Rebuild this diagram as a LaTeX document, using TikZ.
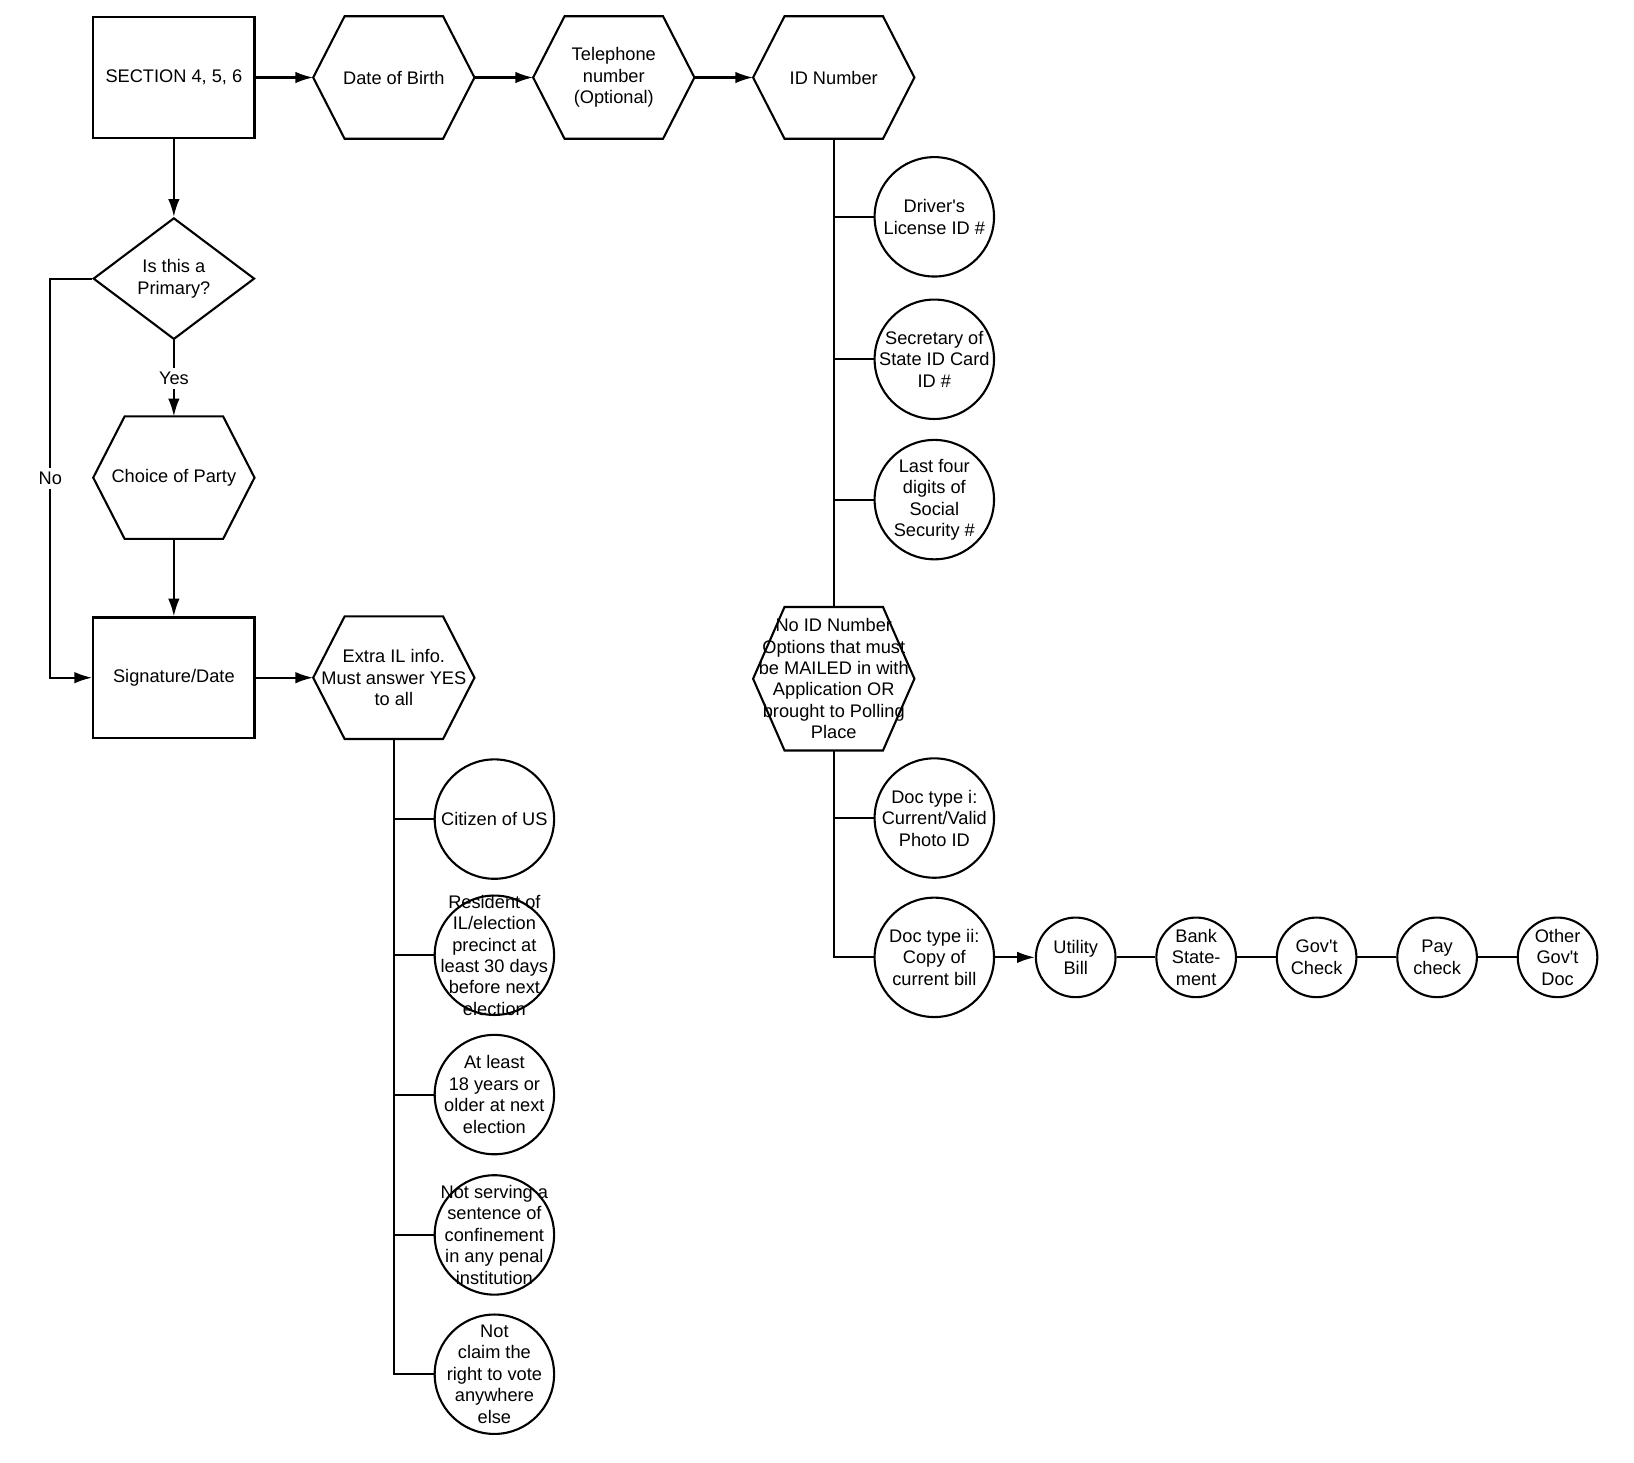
\documentclass[tikz,border=0pt]{standalone}
\usepackage{fontspec}
\setmainfont{Liberation Sans}
\usetikzlibrary{arrows.meta, positioning, shapes.geometric}
\tikzset{>={Latex[width=5.5pt,length=8.5pt]}}
\tikzset{
  every node/.style={font=\fontsize{8.7}{10.25}\selectfont},
  box/.style={draw, rectangle, minimum width=77pt, minimum height=57.5pt, align=center},
  hexa/.style={rectangle, minimum width=76pt, minimum height=57.5pt, inner sep=0pt, align=center,
    append after command={\pgfextra{\draw (\tikzlastnode.west)
      -- ([xshift=15pt]\tikzlastnode.north west) -- ([xshift=-15pt]\tikzlastnode.north east)
      -- (\tikzlastnode.east)
      -- ([xshift=-15pt]\tikzlastnode.south east) -- ([xshift=15pt]\tikzlastnode.south west)
      -- cycle;}}},
  ask/.style={draw, diamond, aspect=1.33, minimum width=77pt, minimum height=58pt, inner sep=0pt, align=center},
  opt/.style={draw, circle, minimum size=57pt, inner sep=0pt},
  doc/.style={draw, circle, minimum size=38pt, inner sep=0pt},
  txt/.style={align=center, inner sep=0pt},
  tag/.style={fill=white, inner sep=2pt},
}

\begin{document}
\begin{tikzpicture}[on grid, node distance = 105pt, line width = 1pt]
		\useasboundingbox (0,0) rectangle (780pt,-698pt);
		% top row
		\node (sec) [box] at (83pt,-37pt) {SECTION 4, 5, 6};
		\node (dob) [hexa, right = of sec] {Date of Birth};
		\node (tel) [hexa, right = of dob] {Telephone\\number\\(Optional)};
		\node (idn) [hexa, right = of tel] {ID Number};
		% left column
		\node (prim) [ask, below = 96pt of sec] {Is this a\\Primary?};
		\node (party) [hexa, below = 95pt of prim] {Choice of Party};
		\node (sign) [box, below = 95.5pt of party] {Signature/Date};
		\node (extra) [hexa, right = of sign] {Extra IL info.\\Must answer YES\\to all};
		% IL requirements
		\node (cit) [opt, below right = 67.5pt and 48pt of extra, label = {[txt]center:{Citizen of US}}] {};
		\node (res) [opt, below = 65pt of cit, label = {[txt]center:{Resident of\\IL/election\\precinct at\\least 30 days\\before next\\election}}] {};
		\node (age) [opt, below = 66.5pt of res, label = {[txt]center:{At least\\18 years or\\older at next\\election}}] {};
		\node (jail) [opt, below = 67pt of age, label = {[txt]center:{Not serving a\\sentence of\\confinement\\in any penal\\institution}}] {};
		\node (elsew) [opt, below = 66.5pt of jail, label = {[txt]center:{Not\\claim the\\right to vote\\anywhere\\else}}] {};
		% ID options
		\node (dl) [opt, below right = 66.5pt and 48pt of idn, label = {[txt]center:{Driver\textquotesingle s\\License ID \#}}] {};
		\node (sos) [opt, below = 68pt of dl, label = {[txt]center:{Secretary of\\State ID Card\\ID \#}}] {};
		\node (ssn) [opt, below = 67pt of sos, label = {[txt]center:{Last four\\digits of\\Social\\Security \#}}] {};
		\node (noid) [hexa, minimum height = 67.5pt, below = 287pt of idn]
			{No ID Number\\Options that must\\be MAILED in with\\Application OR\\brought to Polling\\Place};
		\node (doci) [opt, below right = 66.5pt and 48pt of noid, label = {[txt]center:{Doc type i:\\Current/Valid\\Photo ID}}] {};
		\node (docii) [opt, below = 66.5pt of doci, label = {[txt]center:{Doc type ii:\\Copy of\\current bill}}] {};
		% bills
		\node (util) [doc, right = 67.5pt of docii, label = {[txt]center:{Utility\\Bill}}] {};
		\node (bank) [doc, right = 57.5pt of util, label = {[txt]center:{Bank\\State-\\ment}}] {};
		\node (govc) [doc, right = 57.5pt of bank, label = {[txt]center:{Gov\textquotesingle t\\Check}}] {};
		\node (pay) [doc, right = 57.5pt of govc, label = {[txt]center:{Pay\\check}}] {};
		\node (other) [doc, right = 57.5pt of pay, label = {[txt]center:{Other\\Gov\textquotesingle t\\Doc}}] {};
		\path[->]
		(sec) edge (dob)
		(dob) edge (tel)
		(tel) edge (idn)
		(sec) edge (prim)
		(prim) edge node [tag] {Yes} (party)
		(party) edge (sign)
		(sign) edge (extra)
		(docii) edge (util);
		\coordinate [left = 20pt of prim.west] (noturn);
		\draw[->] (prim.west) -- (noturn) |- node [tag, pos = 0.25] {No} (sign.west);
		\foreach \c in {cit, res, age, jail, elsew}
			\draw (extra.south) |- (\c.west);
		\foreach \c in {dl, sos, ssn}
			\draw (idn.south) |- (\c.west);
		\draw (idn) -- (noid);
		\foreach \c in {doci, docii}
			\draw (noid.south) |- (\c.west);
		\draw (util) -- (bank) -- (govc) -- (pay) -- (other);
\end{tikzpicture}
\end{document}
